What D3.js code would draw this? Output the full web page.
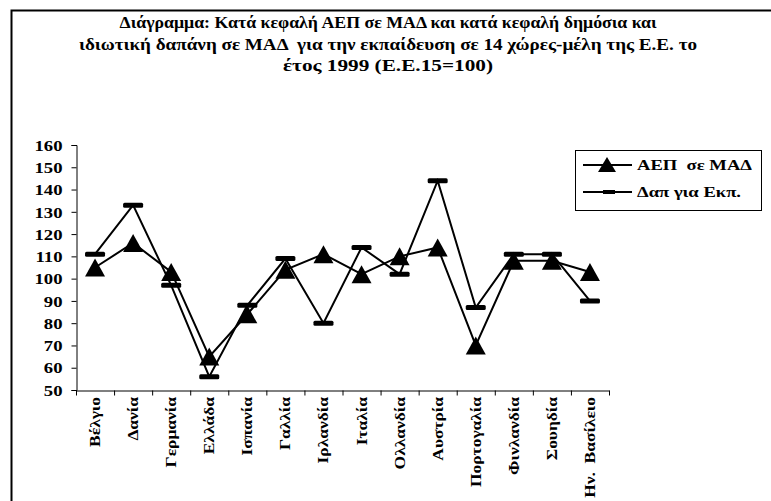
<!DOCTYPE html>
<html><head><meta charset="utf-8">
<script src="https://cdn.jsdelivr.net/npm/d3@7"></script>
<style>
body{margin:0;background:#fff;}
text{white-space:pre;}
</style></head>
<body>
<svg id="chart" width="771" height="501"></svg>
<script>
const categories = ["Βέλγιο","Δανία","Γερμανία","Ελλάδα","Ισπανία","Γαλλία","Ιρλανδία","Ιταλία","Ολλανδία","Αυστρία","Πορτογαλία","Φινλανδία","Σουηδία","Ην.  Βασίλειο"];
const gdpValues = [105,116,103,65,84,104,111,102,110,114,70,108,108,103];
const eduValues = [111,133,97,56,88,109,80,114,102,144,87,111,111,90];
const seriesNames = ["ΑΕΠ  σε ΜΑΔ","Δαπ για Εκπ."];
const yTicks = [50,60,70,80,90,100,110,120,130,140,150,160];
const titleLines = ["Διάγραμμα: Κατά κεφαλή ΑΕΠ σε ΜΑΔ και κατά κεφαλή δημόσια και",
  "ιδιωτική δαπάνη σε ΜΑΔ  για την εκπαίδευση σε 14 χώρες-μέλη της Ε.Ε. το",
  "έτος 1999 (Ε.Ε.15=100)"];

const FONT = '"Liberation Serif","Times New Roman",serif';
const svg = d3.select("#chart");
function styleText(sel, size){
  sel.style("font-family",FONT).style("font-weight","bold").style("font-size",size+"px").attr("fill","#000");
}
function stretch(sel, refNode, target){
  const f = target / refNode.getComputedTextLength();
  sel.each(function(){
    const L = this.getComputedTextLength();
    d3.select(this).attr("textLength", L*f).attr("lengthAdjust","spacingAndGlyphs");
  });
}

svg.append("path").attr("d","M11.5,501 L11.5,10.5 L771,10.5").attr("fill","none").attr("stroke","#000").attr("stroke-width",2);

const titleWidths = [537, 618, 210];
const title = svg.append("g");
const tt = title.selectAll("text").data(titleLines).join("text")
  .attr("x",388).attr("y",(d,i)=>28+i*21.5).attr("text-anchor","middle").text(d=>d);
styleText(tt,16);
tt.each(function(d,i){ stretch(d3.select(this), this, titleWidths[i]); });

const x = d3.scaleBand().domain(categories).range([76,609]).padding(0);
const y = d3.scaleLinear().domain([50,160]).range([390,145]);

const yAxis = svg.append("g").attr("transform","translate(76.5,0)")
  .call(d3.axisLeft(y).tickValues(yTicks).tickSize(5).tickPadding(9));
yAxis.select(".domain").attr("stroke","#000");
yAxis.selectAll("line").attr("stroke","#000");
const yt = yAxis.selectAll("text").attr("dy","0.35em");
styleText(yt,15);
stretch(yt, yt.nodes()[yt.size()-1], 28);

const xAxis = svg.append("g").attr("transform","translate(0,390.5)")
  .call(d3.axisBottom(x).tickSize(0).tickFormat(""));
xAxis.select(".domain").attr("stroke","#000");
const edges = categories.map(c=>x(c)).concat([x.range()[1]]);
xAxis.selectAll("line.edge").data(edges).join("line").attr("class","edge")
  .attr("x1",d=>d+0.5).attr("x2",d=>d+0.5).attr("y1",0).attr("y2",5).attr("stroke","#000");
const xt = svg.append("g").selectAll("text").data(categories).join("text")
  .attr("transform",d=>`translate(${x(d)+x.bandwidth()/2+5},397) rotate(-90)`)
  .attr("text-anchor","end").text(d=>d);
styleText(xt,14);
stretch(xt, xt.nodes()[10], 90);

const line = d3.line().x((d,i)=>x(categories[i])+x.bandwidth()/2).y(d=>y(d));
svg.append("path").datum(eduValues).attr("d",line).attr("fill","none").attr("stroke","#000").attr("stroke-width",2);
svg.append("path").datum(gdpValues).attr("d",line).attr("fill","none").attr("stroke","#000").attr("stroke-width",2);

const tri = (cx,cy)=>`M${cx},${cy-9} L${cx+10},${cy+9} L${cx-10},${cy+9} Z`;
svg.append("g").selectAll("path").data(gdpValues).join("path")
  .attr("d",(d,i)=>tri(x(categories[i])+x.bandwidth()/2,y(d))).attr("fill","#000");
svg.append("g").selectAll("rect").data(eduValues).join("rect")
  .attr("x",(d,i)=>x(categories[i])+x.bandwidth()/2-10).attr("y",d=>y(d)-2.5)
  .attr("width",20).attr("height",5).attr("rx",1.5).attr("fill","#000");

const lg = svg.append("g");
lg.append("rect").attr("x",575.5).attr("y",150.5).attr("width",186).attr("height",60)
  .attr("fill","#fff").attr("stroke","#000").attr("stroke-width",1);
const rowsY = [165,192];
rowsY.forEach((cy,i)=>{
  lg.append("line").attr("x1",583).attr("x2",632).attr("y1",cy).attr("y2",cy).attr("stroke","#000").attr("stroke-width",2);
  if(i===0) lg.append("path").attr("d",`M607,${cy-8} L616,${cy+7} L598,${cy+7} Z`).attr("fill","#000");
  else lg.append("rect").attr("x",603).attr("y",cy-2).attr("width",12).attr("height",4).attr("fill","#000");
});
const lt = lg.selectAll("text").data(seriesNames).join("text")
  .attr("x",637).attr("y",(d,i)=>rowsY[i]).attr("dy","0.35em").text(d=>d);
styleText(lt,15);
stretch(lt, lt.nodes()[0], 115);
</script>
</body></html>
